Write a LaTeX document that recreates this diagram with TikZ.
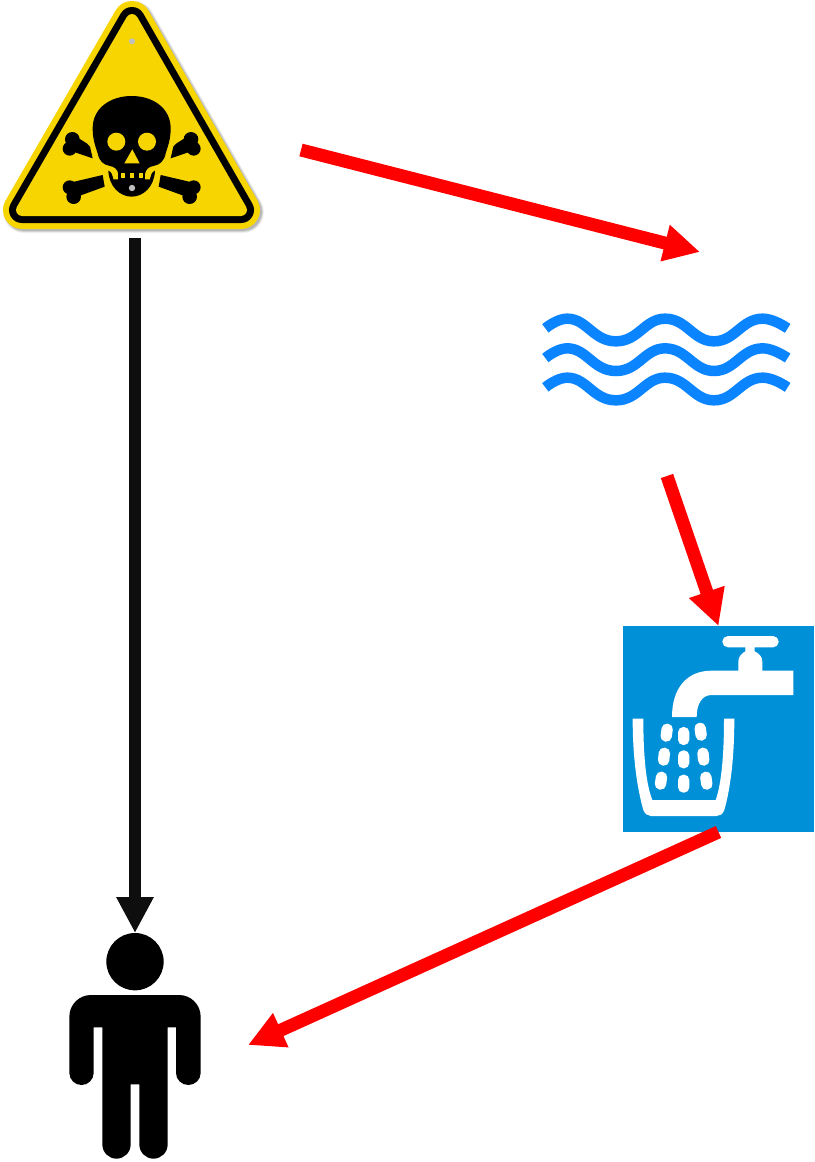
\documentclass[tikz,border=0pt]{standalone}
\usetikzlibrary{arrows.meta,calc}
\definecolor{signyellow}{HTML}{F7D500}
\definecolor{tapblue}{HTML}{0090D8}
\definecolor{wavecol}{HTML}{0A84FF}
\definecolor{pathblack}{HTML}{0E0E0E}
\tikzset{
  zoomed/.style 2 args={shift={(#1,#2)},x=0.33333pt,y=-0.33333pt},
  iconbox/.style={inner sep=0pt,outer sep=0pt,draw=none},
  redarrow/.style={draw=red,line width=13pt,-{Triangle[length=36pt,width=35pt]}},
  blackarrow/.style={draw=pathblack,line width=12pt,-{Triangle[length=36pt,width=35pt]}},
  wave/.style={draw=wavecol,line width=10.5pt},
  bone/.style={fill=black}
}
\begin{document}
\begin{tikzpicture}[x=1pt,y=-1pt]
\useasboundingbox (0,0) rectangle (814,1162);
\fill[white] (0,0) rectangle (814,1162);
% layout boxes of the four icons
\node[iconbox,minimum width=270pt,minimum height=238pt] (hazard) at (135,119) {};
\node[iconbox,minimum width=248pt,minimum height=224pt] (river) at (667,364) {};
\node[iconbox,minimum width=191pt,minimum height=206pt] (tap) at (718.5,729) {};
\node[iconbox,minimum width=132pt,minimum height=227pt] (person) at (135,1046.5) {};
% hazard sign
\foreach \w/\o in {42/0.06,40/0.10,38/0.14}
  \draw[black,opacity=\o,line width=\w pt,line join=round,fill=black] (134,22) -- (243,212) -- (24,212) -- cycle;
\draw[signyellow,fill=signyellow,line width=38pt,line join=round] (132,20) -- (241,210) -- (22,210) -- cycle;
\draw[black,fill=black,line width=26pt,line join=round] (132,20) -- (241,210) -- (22,210) -- cycle;
\draw[signyellow,fill=signyellow,line width=12pt,line join=round] (132,20) -- (241,210) -- (22,210) -- cycle;
\fill[black!25] (132,41.3) circle[radius=3pt];
\begin{scope}[zoomed={55}{90}]
  % cranium
  \fill[black] (113,115) .. controls (113,55) and (165,18) .. (230,18)
    .. controls (295,18) and (347,55) .. (347,115)
    .. controls (347,150) and (338,170) .. (332,190)
    .. controls (328,212) and (315,225) .. (295,228)
    .. controls (282,230) and (272,238) .. (270,252)
    -- (190,252)
    .. controls (188,238) and (178,230) .. (165,228)
    .. controls (145,225) and (132,212) .. (128,190)
    .. controls (122,170) and (113,150) .. (113,115) -- cycle;
  \fill[signyellow] (184,155) circle[radius=27];
  \fill[signyellow] (276,155) circle[radius=27];
  \fill[signyellow] (232,178) -- (254,220) -- (208,220) -- cycle;
  % jaw
  \fill[black] (160,242) .. controls (162,290) and (195,320) .. (230,320)
    .. controls (265,320) and (298,290) .. (300,242)
    .. controls (290,245) and (287,258) .. (285,268)
    -- (175,268)
    .. controls (173,258) and (170,245) .. (160,242) -- cycle;
  \fill[black] (190,248) rectangle (270,270);
  \fill[signyellow] (197,250) rectangle (211,265);
  \fill[signyellow] (224,250) rectangle (238,265);
  \fill[signyellow] (251,250) rectangle (265,265);
  \fill[black!25] (231,294) circle[radius=9.5];
  % crossbones, left then mirrored
  \foreach \m/\o in {1/0,-1/460}{
    \begin{scope}[shift={(\o,0)},xscale=\m]
      \fill[bone] (52,148) circle[radius=22];
      \fill[bone] (44,176) circle[radius=21];
      \fill[bone] (60,135) .. controls (80,155) and (95,155) .. (105,170)
        -- (113,205) -- (60,187) -- (40,160) -- cycle;
      \fill[bone] (44,292) circle[radius=21];
      \fill[bone] (56,320) circle[radius=22];
      \fill[bone] (45,278) -- (143,255) -- (149,290) -- (72,318) -- (50,305) -- cycle;
    \end{scope}
  }
\end{scope}
% river
\begin{scope}[zoomed={530}{300}]
  \foreach \d in {0,89,177}
    \draw[wave] (46,85+\d) .. controls (65,70+\d) and (90,56+\d) .. (112,56+\d)
      .. controls (170,56+\d) and (190,124+\d) .. (258,124+\d)
      .. controls (325,124+\d) and (345,56+\d) .. (405,56+\d)
      .. controls (470,56+\d) and (490,124+\d) .. (552,124+\d)
      .. controls (615,124+\d) and (635,56+\d) .. (698,56+\d)
      .. controls (722,56+\d) and (750,70+\d) .. (773,85+\d);
\end{scope}
% tap
\fill[tapblue] (tap.north west) rectangle (tap.south east);
\begin{scope}[zoomed={615}{620}]
  \fill[white,rounded corners=5.6pt] (322,48) rectangle (491,82);
  \fill[white] (391,80) -- (419,80) -- (419,94)
    .. controls (432,100) and (442,110) .. (442,125) -- (442,152)
    -- (535,152) -- (535,225) -- (290,225)
    .. controls (262,225) and (245,250) .. (245,291) -- (171,291)
    .. controls (171,205) and (215,152) .. (290,152) -- (370,152) -- (370,125)
    .. controls (370,110) and (380,100) .. (391,94) -- cycle;
  \fill[white] (53,296) -- (85,296)
    .. controls (85,400) and (92,490) .. (112,540) -- (302,540)
    .. controls (320,490) and (327,400) .. (327,296) -- (358,296)
    .. controls (358,420) and (345,510) .. (328,570)
    .. controls (324,582) and (315,588) .. (305,588) -- (108,588)
    .. controls (98,588) and (90,582) .. (85,570)
    .. controls (68,510) and (53,420) .. (53,296) -- cycle;
  \foreach \cx/\cy/\r in {155/338/-8,206/348/0,257/335/8,147/410/-6,206/418/0,265/410/6,138/482/-8,206/491/0,274/482/8}
    \fill[white,rounded corners=5.3pt,rotate around={\r:(\cx,\cy)}] (\cx-17,\cy-27) rectangle (\cx+17,\cy+27);
\end{scope}
% person
\begin{scope}[zoomed={50}{890}]
  \fill[black] (255,215) circle[radius=86];
  \fill[black] (123,315) -- (387,315)
    .. controls (423,315) and (452,344) .. (452,380)
    -- (452,549) .. controls (452,569) and (435,585) .. (415,585)
    .. controls (395,585) and (378,569) .. (378,549)
    -- (378,412) -- (353,412) -- (353,763)
    .. controls (353,787) and (334,806) .. (310.5,806)
    .. controls (287,806) and (268,787) .. (268,763)
    -- (268,583) -- (242,583) -- (242,763)
    .. controls (242,787) and (223,806) .. (199.5,806)
    .. controls (176,806) and (157,787) .. (157,763)
    -- (157,412) -- (131,412) -- (131,549)
    .. controls (131,569) and (114,585) .. (94.5,585)
    .. controls (75,585) and (58,569) .. (58,549)
    -- (58,380) .. controls (58,344) and (87,315) .. (123,315) -- cycle;
\end{scope}
% connectors
\draw[blackarrow] (hazard.south) -- (person.north);
\draw[redarrow] ($(hazard.east)+(31,31)$) -- ($(river.north)+(33,0)$);
\draw[redarrow] (river.south) -- (tap.north);
\draw[redarrow] (tap.south) -- ($(person.east)+(47,-1.5)$);
\end{tikzpicture}
\end{document}
